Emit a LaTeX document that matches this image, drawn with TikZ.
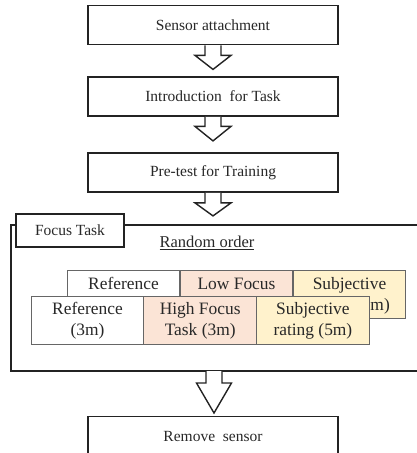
\documentclass[tikz,border=0pt]{standalone}
\usepackage{fontspec}
\setmainfont{Liberation Serif}
\usetikzlibrary{calc}
\definecolor{pinkc}{RGB}{251,228,214}
\definecolor{yelc}{RGB}{255,242,204}
\definecolor{txt}{RGB}{40,40,40}
\definecolor{edge}{RGB}{35,35,35}
\begin{document}
\begin{tikzpicture}[x=1pt,y=-1pt,
  stepbox/.style={draw=edge,line width=1.8pt,fill=white,minimum width=250pt,minimum height=39pt,inner sep=0pt,text=txt,font=\fontsize{15.5}{18}\selectfont},
  cell/.style={draw=black!60,line width=0.8pt,minimum width=112.7pt,minimum height=47.5pt,inner sep=0pt,text=txt,align=center,font=\fontsize{17.4}{21}\selectfont},
  celltext/.style={inner sep=0pt,text=txt,font=\fontsize{17.4}{21}\selectfont},
  barrow/.style={draw=edge,line width=1.4pt,fill=white,line join=miter},
  frameline/.style={draw=edge,line width=1.6pt}]
\useasboundingbox (0,0) rectangle (416,453);
% step boxes
\node[stepbox] (a) at (213,25) {Sensor attachment};
\node[stepbox] (b) at (213,96.5) {Introduction\ \ for Task};
\node[stepbox] (c) at (213,172.5) {Pre-test for Training};
\node[stepbox] (e) at (213,436) {Remove\ \ sensor};
% frame
\coordinate (ftl) at (11,225);
\coordinate (fbl) at (11,371);
\coordinate (fbot) at (214,371);
\draw[frameline] (425,225) -- (ftl) -- (fbl) -- (425,371);
\node[draw=edge,line width=1.6pt,fill=white,minimum width=108pt,minimum height=33pt,inner sep=0pt,text=txt,font=\fontsize{15.5}{18}\selectfont] (ft) at (70,230.5) {Focus Task};
\node[text=txt,font=\fontsize{16.5}{20}\selectfont,inner sep=0pt] (ro) at (207,243) {\underline{Random order}};
% back row (only visible parts of text)
\node[cell,fill=white] (r1) at (123.5,294.5) {};
\node[cell,fill=pinkc] (l1) at (236.5,294.5) {};
\node[cell,fill=yelc] (s1) at (349.5,294.5) {};
\node[celltext,anchor=base] (r1t) at ($(r1.north)+(0,19)$) {Reference};
\node[celltext,anchor=base] (l1t) at ($(l1.north)+(0,19)$) {Low Focus};
\node[celltext,anchor=base] (s1t) at ($(s1.north)+(0,19)$) {Subjective};
\node[celltext,anchor=base east] (s1m) at ($(s1.north)+(40.5,40)$) {m)};
% front row
\node[cell,fill=white] (r2) at (87.5,320.5) {Reference\\(3m)};
\node[cell,fill=pinkc] (h2) at (200.2,320.5) {High Focus\\Task (3m)};
\node[cell,fill=yelc] (s2) at (312.9,320.5) {Subjective\\rating (5m)};
% block arrows
\newcommand\blockarrow[4]{%
  \draw[barrow] ($(#1)+(-8,0)$) -- ++(0,#2) -- ++(-#4+8,0) -- ($(#1)+(0,#2+#3)$)
     -- ($(#1)+(#4,#2)$) -- ++(-#4+8,0) -- ($(#1)+(8,0)$);}
\blockarrow{a.south}{10}{14}{18}
\blockarrow{b.south}{9.5}{14.5}{18}
\blockarrow{c.south}{10}{13}{18}
\blockarrow{fbot}{12}{30}{17.5}
\end{tikzpicture}
\end{document}
